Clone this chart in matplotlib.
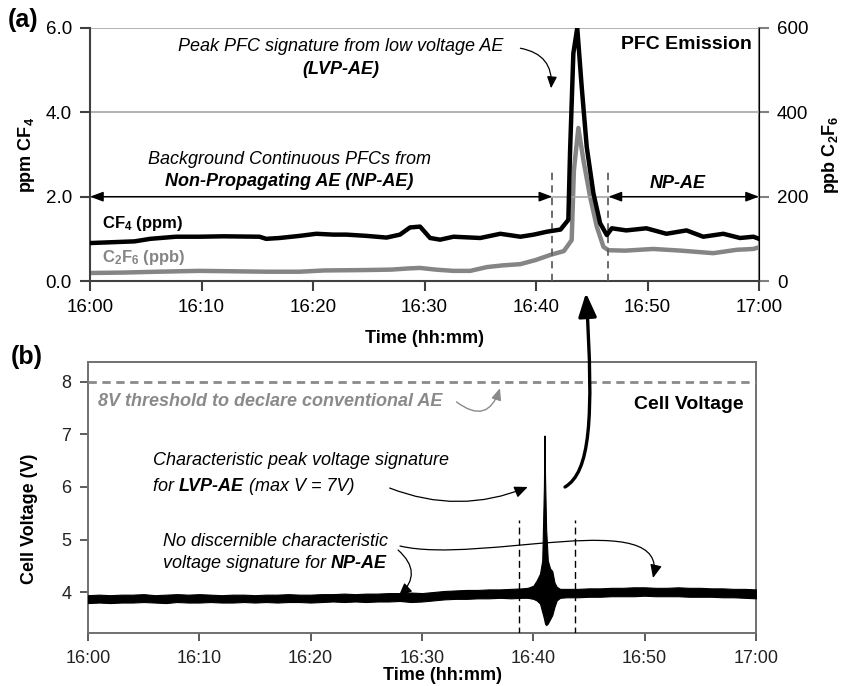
import matplotlib.pyplot as plt
from matplotlib.patches import FancyArrowPatch
from matplotlib.path import Path

plt.rcParams['font.family'] = ['Liberation Sans', 'DejaVu Sans']
plt.rcParams['mathtext.fontset'] = 'custom'
plt.rcParams['mathtext.rm'] = 'Liberation Sans'
plt.rcParams['mathtext.bf'] = 'Liberation Sans:bold'
plt.rcParams['mathtext.it'] = 'Liberation Sans:italic'

W, H = 841, 686

# time axis: minutes after 16:00
tick_pos = [0, 10, 20, 30, 40, 50, 60]
tick_labels = ['16:00', '16:10', '16:20', '16:30', '16:40', '16:50', '17:00']

# (a) PFC emission
t_cf4 = [0, 2, 4, 5.4, 7.7, 9.8, 12, 15.2, 15.8, 17, 18.8, 20.3, 21.8, 23, 24.8, 26.6,
         27.8, 28.7, 29.6, 30.5, 31.4, 32.6, 35, 36.8, 38.6, 39.8, 41, 42.2, 42.9, 43.05,
         43.35, 43.7, 44.1, 44.55, 45.15, 45.75, 46.35, 46.8, 48.1, 49.9, 51.7, 53.5, 55,
         56.8, 58.3, 59.5, 60]
cf4_ppm = [0.90, 0.92, 0.94, 1.00, 1.05, 1.05, 1.06, 1.05, 1.00, 1.02, 1.07, 1.12, 1.10,
           1.10, 1.07, 1.03, 1.10, 1.27, 1.29, 1.02, 0.98, 1.05, 1.02, 1.12, 1.05, 1.10,
           1.17, 1.22, 1.45, 3.03, 5.40, 6.00, 4.60, 3.18, 2.08, 1.37, 1.09, 1.25, 1.20,
           1.25, 1.12, 1.20, 1.05, 1.12, 1.02, 1.05, 1.00]

t_c2f6 = [0, 3, 6, 9.8, 13, 16, 18.8, 21, 24.8, 27, 28.7, 29.6, 31, 32.6, 34.1, 35.6, 37,
          38.6, 40, 41.3, 42.5, 43.2, 43.4, 43.8, 44.25, 44.85, 45.45, 46.05, 46.5, 48,
          50.5, 53, 55.9, 58, 59.5, 60]
c2f6_ppb = [19, 20, 22, 24, 23, 22, 22, 25, 26, 27, 30, 31, 27, 24, 24, 33, 37, 40, 50, 62,
            71, 97, 263, 363, 287, 200, 129, 81, 73, 72, 76, 72, 66, 74, 76, 80]

# (b) cell voltage, envelope of the noisy trace
t_volt = [0, 1, 2, 3, 4, 5, 6, 7, 8, 9, 10, 11, 12, 13, 14, 15, 16, 17, 18, 19, 20, 21, 22,
          23, 24, 25, 26, 27, 28, 29, 30, 31, 32, 33, 34, 35, 36, 37, 38, 39,
          39.5, 40, 40.3, 40.6, 40.8, 40.95, 41.0, 41.05, 41.15, 41.3, 41.5, 41.7, 41.9,
          42.1, 42.4,
          43, 44, 45, 46, 47, 48, 49, 50, 51, 52, 53, 54, 55, 56, 57, 58, 59, 60]
volt_lo = [3.79, 3.80, 3.79, 3.80, 3.80, 3.81, 3.80, 3.79, 3.81, 3.80, 3.80, 3.81, 3.80,
           3.80, 3.81, 3.80, 3.81, 3.80, 3.81, 3.81, 3.80, 3.81, 3.82, 3.81, 3.82, 3.81,
           3.82, 3.82, 3.83,
           3.81, 3.82, 3.84, 3.86, 3.87, 3.87, 3.88, 3.88, 3.89, 3.88, 3.89,
           3.89, 3.87, 3.84, 3.78, 3.62, 3.50, 3.45, 3.40, 3.37, 3.40, 3.48, 3.56, 3.72,
           3.84, 3.89,
           3.90, 3.90, 3.91, 3.91, 3.92, 3.92, 3.92, 3.93, 3.92, 3.92, 3.92, 3.91, 3.91,
           3.91, 3.90, 3.90, 3.89, 3.88]
volt_hi = [3.94, 3.95, 3.94, 3.95, 3.95, 3.96, 3.94, 3.95, 3.96, 3.95, 3.96, 3.95, 3.94,
           3.95, 3.95, 3.94, 3.95, 3.95, 3.96, 3.95, 3.95, 3.96, 3.96, 3.97, 3.96, 3.97,
           3.97, 3.98, 3.98,
           3.99, 3.98, 4.00, 4.02, 4.03, 4.04, 4.04, 4.05, 4.05, 4.06, 4.07,
           4.08, 4.12, 4.22, 4.35, 4.60, 6.00, 6.98, 6.20, 5.20, 4.60, 4.45, 4.40, 4.18,
           4.10, 4.06,
           4.06, 4.06, 4.07, 4.07, 4.08, 4.08, 4.09, 4.09, 4.08, 4.08, 4.09, 4.08, 4.08,
           4.07, 4.07, 4.06, 4.06, 4.05]

threshold_v = 8.0
top_dash_t = [41.46, 46.5]
bot_dash_t = [38.7, 43.75]


def px(x, y):
    # reference pixel -> figure fraction
    return (x / W, 1 - y / H)


fig = plt.figure(figsize=(W / 100, H / 100), dpi=100)

# ---------------- (a) ----------------
ax1 = fig.add_axes([90 / W, 1 - 281 / H, 669 / W, 253 / H])
ax1r = ax1.twinx()
ax1.set_zorder(ax1r.get_zorder() + 1)
ax1.patch.set_visible(False)

ax1.plot(t_cf4, cf4_ppm, color='black', lw=3.2, solid_joinstyle='round', zorder=5)
ax1r.plot(t_c2f6, c2f6_ppb, color='#858585', lw=3.2, solid_joinstyle='round', zorder=4)

ax1.set_xlim(0, 60)
ax1.set_ylim(0, 6)
ax1r.set_ylim(0, 600)
ax1.set_yticks([0, 2, 4, 6])
ax1.set_yticklabels(['0.0', '2.0', '4.0', '6.0'])
ax1r.set_yticks([0, 200, 400, 600])
ax1.set_xticks(tick_pos)
ax1.set_xticklabels(tick_labels)
ax1.grid(axis='y', color='#a6a6a6', lw=1.2)
ax1.set_axisbelow(True)

for a in (ax1, ax1r):
    a.spines['top'].set_visible(False)
ax1.spines['left'].set_color('#404040')
ax1.spines['bottom'].set_color('#404040')
ax1.spines['left'].set_linewidth(1.5)
ax1.spines['bottom'].set_linewidth(1.5)
ax1r.spines['right'].set_color('#808080')
ax1r.spines['right'].set_linewidth(1.5)
ax1r.spines['left'].set_visible(False)
ax1r.spines['bottom'].set_visible(False)
ax1.tick_params(axis='both', direction='out', length=7, width=1.5, color='#404040',
                labelsize=13.5, pad=6)
ax1r.tick_params(axis='y', direction='out', length=7, width=1.5, color='#808080',
                 labelsize=13.5, pad=6)

ax1.set_xlabel('Time (hh:mm)', fontsize=13, fontweight='bold', labelpad=10)
ax1.set_ylabel(r'ppm CF$_\mathbf{4}$', fontsize=13, fontweight='bold', labelpad=6)
ax1r.set_ylabel(r'ppb C$_\mathbf{2}$F$_\mathbf{6}$', fontsize=13, fontweight='bold',
                labelpad=8)

for t in top_dash_t:
    ax1.plot([t, t], [0, 2.63], color='#606060', lw=1.3, ls=(0, (4, 3)), zorder=3)

arr_kw = dict(arrowstyle='<|-|>,head_length=0.8,head_width=0.3', color='black', lw=1,
              shrinkA=0, shrinkB=0)
ax1.annotate('', xy=(0, 2.0), xytext=(top_dash_t[0], 2.0), arrowprops=arr_kw)
ax1.annotate('', xy=(top_dash_t[1], 2.0), xytext=(60, 2.0), arrowprops=arr_kw)

ax1.text(59.4, 5.6, 'PFC Emission', ha='right', va='center', fontsize=14,
         fontweight='bold')
ax1.text(1.1, 1.37, r'CF$_\mathbf{4}$ (ppm)', ha='left', va='center', fontsize=12,
         fontweight='bold')
ax1.text(1.1, 0.55, r'C$_\mathbf{2}$F$_\mathbf{6}$ (ppb)', ha='left', va='center',
         fontsize=12, fontweight='bold', color='#858585')
ax1.text(22.5, 5.55, 'Peak PFC signature from low voltage AE', ha='center', va='center',
         fontsize=13, style='italic')
ax1.text(22.5, 5.02, '(LVP-AE)', ha='center', va='center', fontsize=13, style='italic',
         fontweight='bold')
ax1.text(17.9, 2.87, 'Background Continuous PFCs from', ha='center', va='center',
         fontsize=13, style='italic')
ax1.text(17.9, 2.35, 'Non-Propagating AE (NP-AE)', ha='center', va='center',
         fontsize=13, style='italic', fontweight='bold')
ax1.text(52.7, 2.32, 'NP-AE', ha='center', va='center', fontsize=13, style='italic',
         fontweight='bold')
ax1.annotate('', xy=(41.35, 4.57), xytext=(38.6, 5.52),
             arrowprops=dict(arrowstyle='-|>,head_length=0.7,head_width=0.3',
                             color='black', lw=0.9, connectionstyle='arc3,rad=-0.45',
                             shrinkA=0, shrinkB=0))

# ---------------- (b) ----------------
ax2 = fig.add_axes([88 / W, 1 - 633 / H, 668 / W, 271 / H])
ax2.fill_between(t_volt, volt_lo, volt_hi, color='black', lw=0.8, edgecolor='black',
                 zorder=4)
ax2.axhline(threshold_v, color='#8a8a8a', lw=2, ls=(0, (3, 2)), zorder=3)
for t in bot_dash_t:
    ax2.plot([t, t], [3.2, 5.37], color='black', lw=1, ls=(0, (5, 3)), zorder=3)

ax2.set_xlim(0, 60)
ax2.set_ylim(3.22, 8.38)
ax2.set_yticks([4, 5, 6, 7, 8])
ax2.set_xticks(tick_pos)
ax2.set_xticklabels(tick_labels)
for s in ax2.spines.values():
    s.set_color('#707070')
    s.set_linewidth(1.4)
ax2.tick_params(axis='both', direction='out', length=6, width=1.2, color='#404040',
                labelsize=13, labelcolor='#222222', pad=6)
ax2.set_xlabel('Time (hh:mm)', fontsize=13, fontweight='bold', labelpad=4)
ax2.xaxis.set_label_coords(0.53, -0.125)
ax2.set_ylabel('Cell Voltage (V)', fontsize=13, fontweight='bold')
ax2.yaxis.set_label_coords(-0.075, 0.42)

ax2.text(0.9, 7.62, '8V threshold to declare conventional AE', ha='left', va='center',
         fontsize=13, style='italic', fontweight='bold', color='#8a8a8a')
ax2.annotate('', xy=(37.0, 7.88), xytext=(33.1, 7.62),
             arrowprops=dict(arrowstyle='-|>,head_length=0.7,head_width=0.3',
                             color='#8a8a8a', lw=1, connectionstyle='arc3,rad=0.7',
                             shrinkA=0, shrinkB=0))
ax2.text(58.9, 7.58, 'Cell Voltage', ha='right', va='center', fontsize=14,
         fontweight='bold')

ax2.text(5.84, 6.51, 'Characteristic peak voltage signature', ha='left', va='center',
         fontsize=13, style='italic')
p1 = ax2.text(5.84, 6.0, 'for ', ha='left', va='center', fontsize=13, style='italic')
p2 = ax2.annotate('LVP-AE', xy=(1, 0), xycoords=p1, ha='left', va='bottom', fontsize=13,
                  style='italic', fontweight='bold')
ax2.annotate(' (max V = 7V)', xy=(1, 0), xycoords=p2, ha='left', va='bottom',
             fontsize=13, style='italic')

ax2.text(6.74, 4.97, 'No discernible characteristic', ha='left', va='center',
         fontsize=13, style='italic')
q1 = ax2.text(6.74, 4.55, 'voltage signature for ', ha='left', va='center', fontsize=13,
              style='italic')
ax2.annotate('NP-AE', xy=(1, 0), xycoords=q1, ha='left', va='bottom', fontsize=13,
             style='italic', fontweight='bold')

thin = dict(color='black', lw=0.9, shrinkA=0, shrinkB=0)
ax2.annotate('', xy=(39.5, 6.0), xytext=(27.1, 5.98),
             arrowprops=dict(arrowstyle='-|>,head_length=0.8,head_width=0.35',
                             connectionstyle='arc3,rad=0.2', **thin))
ax2.annotate('', xy=(27.9, 3.92), xytext=(27.85, 4.8),
             arrowprops=dict(arrowstyle='-|>,head_length=0.8,head_width=0.35',
                             connectionstyle='arc3,rad=-0.55', **thin))

# long curved arrow to the post-event NP-AE region
long_path = Path([px(400, 546), px(480, 565), px(670, 505), px(653, 578)],
                 [Path.MOVETO, Path.CURVE4, Path.CURVE4, Path.CURVE4])
fig.add_artist(FancyArrowPatch(path=long_path, transform=fig.transFigure,
                               arrowstyle='-|>,head_length=0.8,head_width=0.35',
                               mutation_scale=10, color='black', lw=0.9))

# thick arrow linking voltage spike to PFC peak
big_path = Path([px(565, 487), px(590, 472), px(594, 420), px(586, 293)],
                [Path.MOVETO, Path.CURVE4, Path.CURVE4, Path.CURVE4])
fig.add_artist(FancyArrowPatch(path=big_path, transform=fig.transFigure,
                               arrowstyle='-|>,head_length=1.3,head_width=0.5',
                               mutation_scale=11, color='black', lw=2.4))

fig.text(*px(8, 20), '(a)', fontsize=18, fontweight='bold', va='center', ha='left')
fig.text(*px(11, 357), '(b)', fontsize=18, fontweight='bold', va='center', ha='left')

fig.savefig('out.png', dpi=100)
